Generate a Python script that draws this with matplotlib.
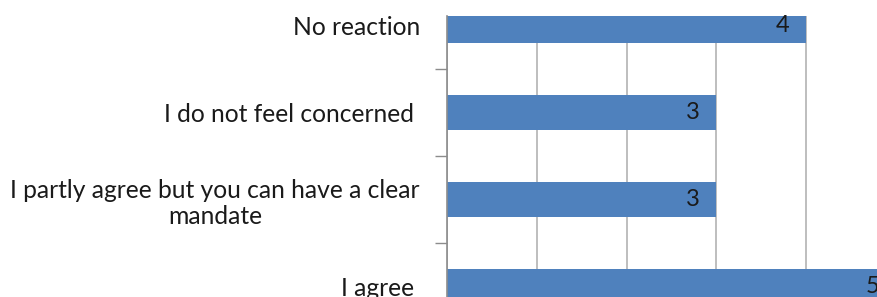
import matplotlib
matplotlib.use("Agg")
import matplotlib.pyplot as plt

# answers, bottom to top as they appear on the chart
answers = [
    "I agree ",
    "I partly agree but you can have a clear\nmandate",
    "I do not feel concerned ",
    "No reaction",
]
counts = [5, 3, 3, 4]

plt.rcParams['font.family'] = ['Lato', 'DejaVu Sans']

W, H = 878, 297
fig = plt.figure(figsize=(W / 100, H / 100), dpi=100)

# plot area runs off the right and bottom edges, as in the original crop
x0, x1 = 447, 896
y_top, y_bot = 16, 330.5
ax = fig.add_axes([x0 / W, (H - y_bot) / H, (x1 - x0) / W, (y_bot - y_top) / H])

pos = list(range(len(answers)))
ax.barh(pos, counts, height=0.4, color='#4F81BD', zorder=2)

for p, c in zip(pos, counts):
    ax.annotate(str(c), xy=(c, p), xytext=(-17, 0), textcoords='offset pixels',
                ha='right', va='center', fontsize=17, color='#1a1a1a', zorder=3)

ax.set_xlim(0, 5)
ax.set_ylim(-0.5, 3.107)
ax.set_xticks(range(0, 6))
ax.set_xticklabels([])
ax.tick_params(axis='x', length=0)
ax.xaxis.grid(True, color='#b3b3b3', linewidth=1.2, zorder=0)

ax.set_yticks(pos)
ax.set_yticklabels(answers, fontsize=17.7, multialignment='center', color='#1a1a1a',
                   linespacing=1.15)
ax.set_yticks([p + 0.5 for p in pos[:-1]], minor=True)
ax.tick_params(axis='y', which='major', length=0, pad=19.5)
ax.tick_params(axis='y', which='minor', length=9, width=1, color='#8c8c8c')

for s in ['top', 'right', 'bottom']:
    ax.spines[s].set_visible(False)
ax.spines['left'].set_color('#8c8c8c')
ax.spines['left'].set_linewidth(1.2)

fig.savefig('out.png', dpi=100)
